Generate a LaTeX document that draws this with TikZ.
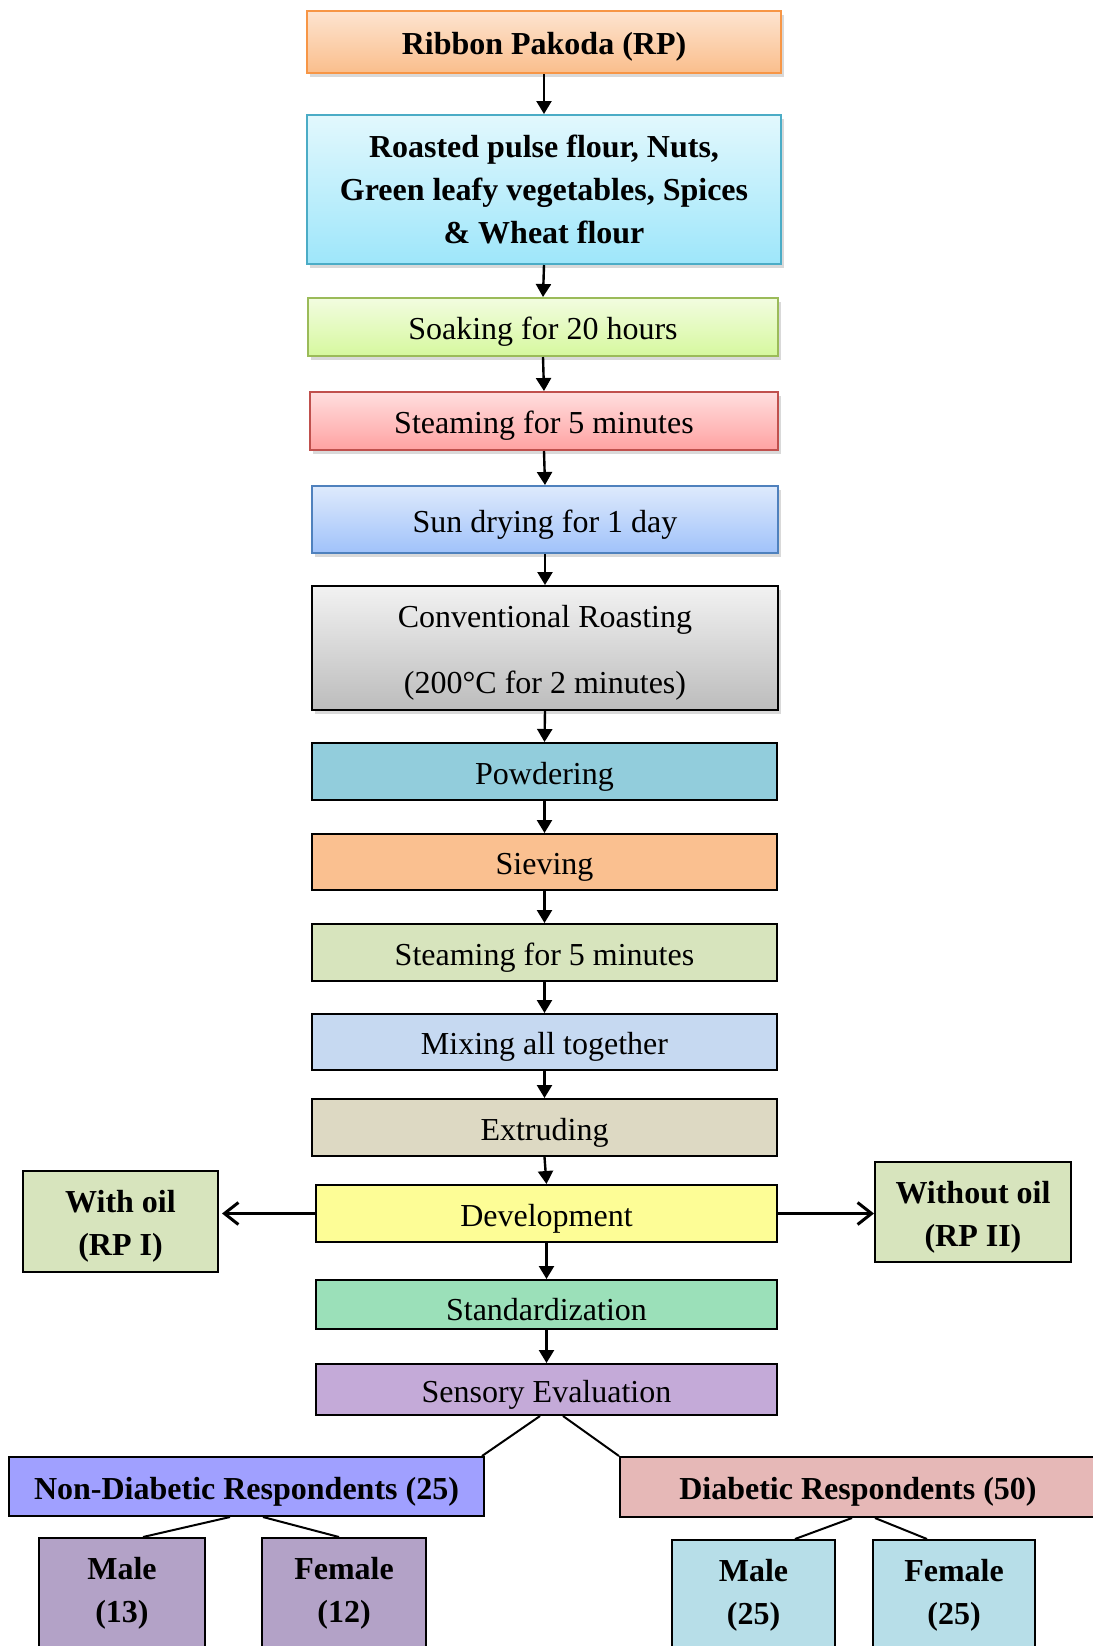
\documentclass[tikz,border=0pt]{standalone}
\usepackage{fontspec}
\setmainfont{Liberation Serif}
\usepackage{xcolor}
\usepackage{tikz}
\usetikzlibrary{arrows.meta,shadows}
\newcommand{\tallstrut}{\rule{0pt}{16pt}}
\definecolor{rptop}{RGB}{253,228,208}
\definecolor{rpbottom}{RGB}{250,190,140}
\definecolor{rpborder}{RGB}{247,150,70}
\definecolor{ingtop}{RGB}{226,248,253}
\definecolor{ingbottom}{RGB}{158,230,250}
\definecolor{ingborder}{RGB}{75,172,198}
\definecolor{soaktop}{RGB}{242,252,224}
\definecolor{soakbottom}{RGB}{214,248,158}
\definecolor{soakborder}{RGB}{155,187,89}
\definecolor{steamtop}{RGB}{255,222,222}
\definecolor{steambottom}{RGB}{255,162,162}
\definecolor{steamborder}{RGB}{192,80,77}
\definecolor{suntop}{RGB}{222,234,252}
\definecolor{sunbottom}{RGB}{160,194,250}
\definecolor{sunborder}{RGB}{79,129,189}
\definecolor{roasttop}{RGB}{242,242,242}
\definecolor{roastbottom}{RGB}{188,188,188}
\definecolor{powderfill}{RGB}{146,205,220}
\definecolor{sievefill}{RGB}{250,192,144}
\definecolor{oliva}{RGB}{215,228,189}
\definecolor{mixfill}{RGB}{198,217,241}
\definecolor{extrudefill}{RGB}{221,217,195}
\definecolor{devfill}{RGB}{253,253,150}
\definecolor{stdfill}{RGB}{155,224,185}
\definecolor{sensfill}{RGB}{196,170,216}
\definecolor{nondiafill}{RGB}{160,160,255}
\definecolor{diafill}{RGB}{230,184,183}
\definecolor{lilac}{RGB}{179,162,199}
\definecolor{paleblue}{RGB}{183,222,232}

\begin{document}
\begin{tikzpicture}[x=0.5pt, y=-0.5pt, line width=1pt,
    stepbox/.style={draw=black, line width=1pt, inner sep=0pt, align=center,
        font=\fontsize{16}{21.5}\selectfont},
    boldbox/.style={stepbox, font=\fontsize{16}{21.5}\selectfont\bfseries},
    shadowed/.style={drop shadow={shadow xshift=1.5pt, shadow yshift=-2pt, opacity=0.3}},
    downarrow/.style={line width=1.2pt, -{Triangle[length=6.5pt,width=7.5pt]}},
    sidearrow/.style={line width=1.5pt, -{Straight Barb[length=7pt,width=11pt]}}]
    \useasboundingbox (0,0) rectangle (1093,1646);
    \clip (0,0) rectangle (1093,1646);
    % shaded boxes at the top
    \node[boldbox, shadowed, draw=rpborder, top color=rptop, bottom color=rpbottom,
        minimum width=237pt, minimum height=31pt] (rp) at (544,42) {\tallstrut Ribbon Pakoda (RP)};
    \node[boldbox, shadowed, draw=ingborder, top color=ingtop, bottom color=ingbottom,
        minimum width=237pt, minimum height=74.5pt] (ing) at (544,189.5)
        {Roasted pulse flour, Nuts,\\Green leafy vegetables, Spices\\\& Wheat flour};
    \node[stepbox, shadowed, draw=soakborder, top color=soaktop, bottom color=soakbottom,
        minimum width=235pt, minimum height=29pt] (soak) at (543,327) {\tallstrut Soaking for 20 hours};
    \node[stepbox, shadowed, draw=steamborder, top color=steamtop, bottom color=steambottom,
        minimum width=234pt, minimum height=29pt] (steama) at (544,421) {\tallstrut Steaming for 5 minutes};
    \node[stepbox, shadowed, draw=sunborder, top color=suntop, bottom color=sunbottom,
        minimum width=233pt, minimum height=33.5pt] (sun) at (545,519.5) {\tallstrut Sun drying for 1 day};
    \node[stepbox, shadowed, top color=roasttop, bottom color=roastbottom,
        minimum width=233pt, minimum height=62pt] (roast) at (545,648)
        {\tallstrut Conventional Roasting\\[11.5pt](200°C for 2 minutes)};
    % flat boxes
    \node[stepbox, fill=powderfill, minimum width=232.5pt, minimum height=28.5pt] (powder) at (544.5,771.5) {\tallstrut Powdering};
    \node[stepbox, fill=sievefill, minimum width=232.5pt, minimum height=28pt] (sieve) at (544.5,862) {\tallstrut Sieving};
    \node[stepbox, fill=oliva, minimum width=232.5pt, minimum height=28.5pt] (steamb) at (544.5,952.5) {\tallstrut Steaming for 5 minutes};
    \node[stepbox, fill=mixfill, minimum width=232.5pt, minimum height=28pt] (mix) at (544.5,1042) {\tallstrut Mixing all together};
    \node[stepbox, fill=extrudefill, minimum width=232.5pt, minimum height=28.5pt] (extrude) at (544.5,1127.5) {\tallstrut Extruding};
    \node[stepbox, fill=devfill, minimum width=230.5pt, minimum height=28.5pt] (dev) at (546.5,1213.5) {\tallstrut Development};
    \node[boldbox, fill=oliva, minimum width=97.5pt, minimum height=50.5pt] (withoil) at (120.5,1221.5) {\tallstrut With oil\\(RP I)};
    \node[boldbox, fill=oliva, minimum width=98pt, minimum height=50pt] (withoutoil) at (973,1212) {\tallstrut Without oil\\(RP II)};
    \node[stepbox, fill=stdfill, minimum width=230.5pt, minimum height=24.5pt] (std) at (546.5,1304.5) {\tallstrut Standardization};
    \node[stepbox, fill=sensfill, minimum width=230.5pt, minimum height=25.5pt] (sens) at (546.5,1389.5) {\tallstrut Sensory Evaluation};
    % respondents
    \node[boldbox, fill=nondiafill, minimum width=237.5pt, minimum height=29.5pt] (nondia) at (246.5,1486.5) {\tallstrut Non-Diabetic Respondents (25)};
    \node[boldbox, fill=diafill, minimum width=238pt, minimum height=30pt] (dia) at (858,1487) {\tallstrut Diabetic Respondents (50)};
    \node[boldbox, fill=lilac, minimum width=83pt, minimum height=55pt] (malea) at (122,1593) {Male\\(13)};
    \node[boldbox, fill=lilac, minimum width=82pt, minimum height=55pt] (femalea) at (344,1593) {Female\\(12)};
    \node[boldbox, fill=paleblue, minimum width=81.5pt, minimum height=55pt] (maleb) at (753.5,1595) {Male\\(25)};
    \node[boldbox, fill=paleblue, minimum width=81pt, minimum height=55pt] (femaleb) at (954,1595) {Female\\(25)};
    % arrows down the chain
    \foreach \a/\b in {rp/ing, ing/soak, soak/steama, steama/sun, sun/roast, roast/powder,
        powder/sieve, sieve/steamb, steamb/mix, mix/extrude, extrude/dev, dev/std, std/sens}
        \draw[downarrow] (\a.south) -- (\b.north);
    % oil / no oil
    \draw[sidearrow] (dev.west) -- ([xshift=1.5pt]dev.west -| withoil.east);
    \draw[sidearrow] (dev.east) -- (dev.east -| withoutoil.west);
    % split lines
    \draw ([xshift=-3.25pt]sens.south) -- ([xshift=-1.5pt]nondia.north east);
    \draw ([xshift=8.25pt]sens.south) -- (dia.north west);
    \draw ([xshift=-8.25pt]nondia.south) -- ([xshift=10.5pt]malea.north);
    \draw ([xshift=8.25pt]nondia.south) -- ([xshift=-2.5pt]femalea.north);
    \draw ([xshift=-3pt]dia.south) -- ([xshift=20.75pt]maleb.north);
    \draw ([xshift=8.5pt]dia.south) -- ([xshift=-13.5pt]femaleb.north);
\end{tikzpicture}
\end{document}
